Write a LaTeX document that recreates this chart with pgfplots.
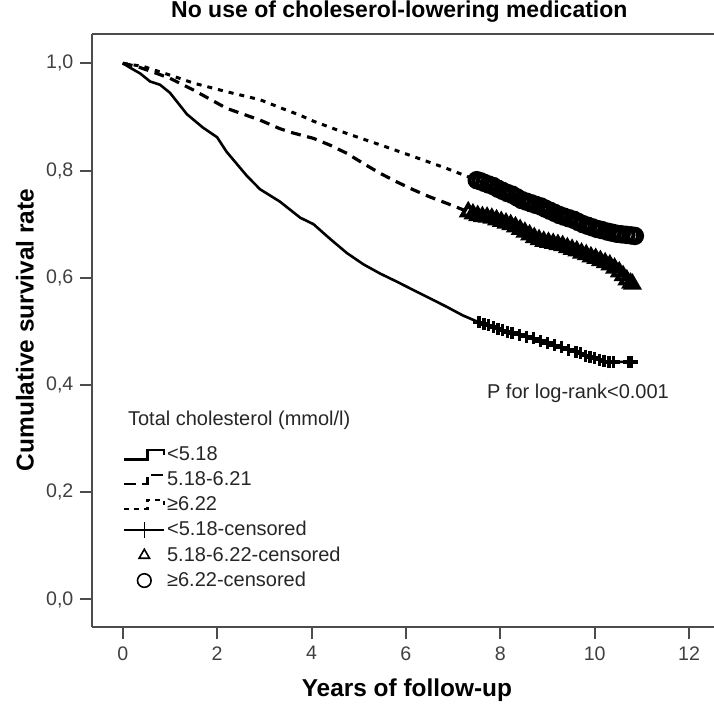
\documentclass[border=0pt]{standalone}
\usepackage{fontspec}
\setmainfont{Liberation Sans}
\usepackage{pgfplots}
\pgfplotsset{compat=1.18}
\pgfplotstableread{
x y
0 1.0
0.19 0.990
0.37 0.981
0.58 0.966
0.79 0.960
1.0 0.945
1.36 0.905
1.7 0.880
2.0 0.862
2.2 0.835
2.63 0.790
2.91 0.765
3.33 0.742
3.76 0.712
4.04 0.700
4.4 0.672
4.75 0.646
5.1 0.625
5.45 0.608
5.8 0.593
6.16 0.577
6.5 0.562
6.86 0.546
7.2 0.530
7.57 0.516
8.0 0.503
8.28 0.496
8.6 0.488
8.98 0.478
9.3 0.470
9.69 0.459
10.0 0.450
10.25 0.443
10.5 0.443
10.8 0.443
}\lowtab
\pgfplotstableread{
x y
0 1.0
0.3 0.994
0.6 0.985
1.0 0.972
1.5 0.950
2.2 0.916
2.91 0.894
3.33 0.878
3.61 0.870
4.04 0.860
4.4 0.847
4.75 0.832
5.1 0.813
5.45 0.795
5.8 0.779
6.16 0.764
6.5 0.751
6.86 0.739
7.32 0.723
7.7 0.714
8.15 0.702
8.5 0.688
8.86 0.670
9.2 0.662
9.56 0.652
9.9 0.640
10.27 0.627
10.5 0.612
10.8 0.588
}\midtab
\pgfplotstableread{
x y
0 1.0
0.44 0.994
1.0 0.978
1.5 0.963
2.2 0.947
2.91 0.932
3.4 0.915
3.76 0.903
4.04 0.892
4.75 0.869
5.45 0.848
6.16 0.826
6.86 0.804
7.5 0.782
8.15 0.758
8.86 0.733
9.56 0.708
10.27 0.686
10.69 0.680
10.85 0.677
}\hightab
\pgfplotstableread{
x y
7.55 0.517
7.65 0.514
7.75 0.511
7.85 0.508
7.95 0.505
8.05 0.502
8.15 0.499
8.25 0.497
8.4 0.494
8.55 0.490
8.7 0.487
8.85 0.482
9.0 0.478
9.15 0.474
9.3 0.470
9.45 0.466
9.6 0.462
9.7 0.459
9.8 0.455
9.9 0.452
10.0 0.450
10.1 0.447
10.2 0.444
10.3 0.443
10.4 0.443
10.72 0.443
10.78 0.443
}\lowcens
\pgfplotstableread{
x y
7.32 0.723
7.42 0.719
7.52 0.716
7.62 0.714
7.72 0.713
7.82 0.711
7.92 0.708
8.02 0.705
8.12 0.702
8.22 0.699
8.32 0.695
8.42 0.690
8.52 0.685
8.62 0.680
8.72 0.675
8.82 0.671
8.92 0.668
9.02 0.666
9.12 0.664
9.22 0.662
9.32 0.660
9.42 0.656
9.52 0.653
9.62 0.650
9.72 0.646
9.82 0.643
9.92 0.639
10.02 0.636
10.12 0.632
10.22 0.628
10.32 0.624
10.42 0.618
10.52 0.611
10.6 0.604
10.68 0.596
10.76 0.590
10.8 0.588
}\midcens
\pgfplotstableread{
x y
7.50 0.782
7.58 0.780
7.66 0.777
7.75 0.774
7.85 0.771
7.95 0.766
8.05 0.762
8.15 0.758
8.25 0.755
8.35 0.750
8.45 0.745
8.55 0.742
8.65 0.739
8.75 0.736
8.86 0.733
8.95 0.729
9.05 0.725
9.15 0.721
9.25 0.717
9.35 0.714
9.45 0.711
9.56 0.708
9.65 0.704
9.75 0.700
9.85 0.697
9.95 0.694
10.05 0.691
10.15 0.689
10.27 0.686
10.37 0.684
10.47 0.682
10.57 0.681
10.67 0.680
10.77 0.679
10.85 0.678
}\highcens
\begin{document}
\begin{tikzpicture}
\begin{axis}[
  x=23.6pt, y=268.1pt,
  xmin=-0.642, xmax=12.53, ymin=-0.0518, ymax=1.0546,
  axis x line=box, axis y line=left,
  x axis line style={-}, y axis line style={-},
  axis line style={line width=1pt, black!70},
  xtick={0,2,...,12}, ytick={0,0.2,0.4,0.6,0.8,1.0},
  xtick pos=bottom, ytick pos=left,
  tick align=outside, major tick length=6pt,
  tick style={line width=1pt, black!70},
  /pgf/number format/assume math mode=true,
  tick label style={font=\fontsize{9.8}{11}\selectfont, text=black!75},
  y tick label style={/pgf/number format/.cd, fixed, fixed zerofill, precision=1, use comma},
  clip=false,
  legend cell align=left,
  legend style={draw=none, fill=none, at={(axis cs:0.0,0.289)}, anchor=north west,
    font=\fontsize{10}{12}\selectfont, text=black!85, row sep=1.9pt, inner sep=0pt,
    nodes={inner sep=1pt}},
]
\addplot[black, line width=1.3pt,
  legend image code/.code={\draw[black, line width=1.2pt] (0pt,-2pt) -- (11.5pt,-2pt) -- (11.5pt,2.6pt) -- (19.7pt,2.6pt) -- (19.7pt,0pt);}]
  table {\lowtab};
\addlegendentry{<5.18}
\addplot[black, line width=1.6pt, dash pattern=on 5pt off 3.3pt,
  legend image code/.code={\draw[black, line width=1.2pt, dash pattern=on 6pt off 3pt] (0pt,-2pt) -- (11.5pt,-2pt) -- (11.5pt,2.6pt) -- (19.7pt,2.6pt) -- (19.7pt,0pt);}]
  table {\midtab};
\addlegendentry{5.18-6.21}
\addplot[black, line width=1.5pt, dash pattern=on 2.5pt off 3pt,
  legend image code/.code={\draw[black, line width=1.2pt, dash pattern=on 2.5pt off 2.5pt] (0pt,-2pt) -- (11.5pt,-2pt) -- (11.5pt,2.6pt) -- (19.7pt,2.6pt) -- (19.7pt,0pt);}]
  table {\hightab};
\addlegendentry{≥6.22}
\addplot[only marks, mark=+, mark size=3pt, mark options={black, line width=1.7pt},
  legend image code/.code={\draw[black, line width=0.8pt] (0pt,0pt) -- (20pt,0pt); \draw[black, line width=0.8pt] (10pt,-4pt) -- (10pt,4pt);}]
  table {\lowcens};
\addlegendentry{<5.18-censored}
\addplot[only marks, mark=triangle, mark size=3.6pt, mark options={black, line width=1.9pt},
  legend image code/.code={\draw[black, line width=0.8pt] plot[mark=triangle, mark size=3pt, mark options={black, line width=0.8pt}] coordinates {(10pt,0pt)};}]
  table {\midcens};
\addlegendentry{5.18-6.22-censored}
\addplot[only marks, mark=o, mark size=3.6pt, mark options={black, line width=2pt},
  legend image code/.code={\draw[black, line width=0.8pt] plot[mark=o, mark size=3.4pt, mark options={black, line width=0.8pt}] coordinates {(10pt,0pt)};}]
  table {\highcens};
\addlegendentry{≥6.22-censored}

\node[anchor=west, font=\fontsize{10}{12}\selectfont, text=black!85] at (axis cs:-0.036,0.335) {Total cholesterol (mmol/l)};
\node[anchor=west, font=\fontsize{10}{12}\selectfont, text=black!85] at (axis cs:7.57,0.385) {P for log-rank<0.001};
\node[font=\fontsize{11.5}{13}\selectfont\bfseries] at (axis cs:5.86,1.0957) {No use of choleserol-lowering medication};
\node[font=\fontsize{12.2}{14}\selectfont\bfseries] at (axis cs:6.02,-0.169) {Years of follow-up};
\node[font=\fontsize{12.2}{14}\selectfont\bfseries, rotate=90] at (axis cs:-2.07,0.5026) {Cumulative survival rate};
\coordinate (bbbl) at (axis cs:-2.6,-0.2024);
\coordinate (bbtr) at (axis cs:12.527,1.118);
\end{axis}
\pgfresetboundingbox
\useasboundingbox (bbbl) rectangle (bbtr);
\end{tikzpicture}
\end{document}
